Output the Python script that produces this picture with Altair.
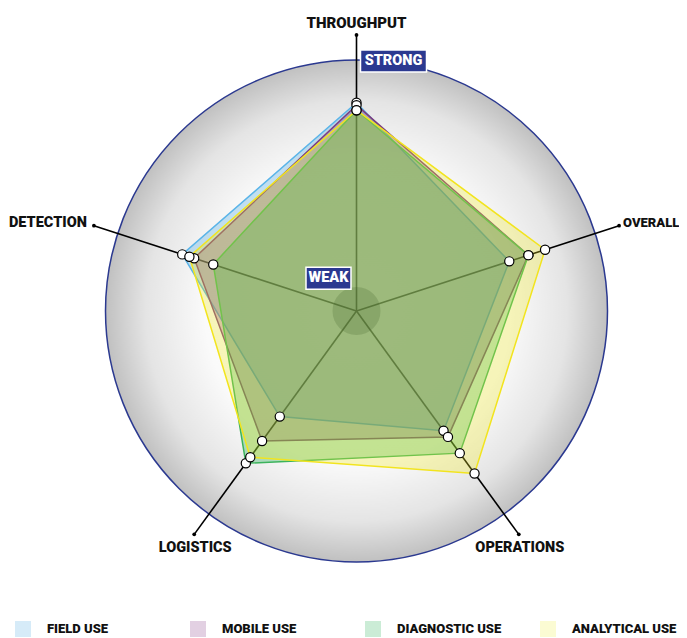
import math
import altair as alt
import pandas as pd

# ---------------- data ----------------
axes_names = ["THROUGHPUT", "OVERALL", "OPERATIONS", "LOGISTICS", "DETECTION"]
series_names = ["FIELD USE", "MOBILE USE", "DIAGNOSTIC USE", "ANALYTICAL USE"]
field_use = [83, 64, 59, 52, 73]
mobile_use = [82, 72, 62, 64, 68]
diagnostic_use = [80, 72, 70, 75, 60]
analytical_use = [80, 79, 80, 72, 70]
values = [field_use, mobile_use, diagnostic_use, analytical_use]
fill_colors = ["#3ea2de", "#742074", "#08a53e", "#eee826"]
swatch_colors = ["#c5e3f5", "#d5bcd5", "#b5e4c5", "#fafac0"]
stroke_colors = ["#5ab4e8", "#7d3d7d", "#3cb35c", "#f2e41e"]
strong_label = "STRONG"
weak_label = "WEAK"

# ---------------- layout ----------------
R_MAX = 100          # outer circle value
R_LEAD = 110         # leader end
PX = 2.51            # pixels per unit
W, H = 671, 630
CX, CY = 348.5, 303  # centre in plot pixels
FONT = "Roboto, Liberation Sans, sans-serif"
WEIGHT = 900
n = len(axes_names)
angles = [math.radians(90 - 360 / n * i) for i in range(n)]

xs = alt.Scale(domain=[-CX / PX, (W - CX) / PX], nice=False, zero=False)
ys = alt.Scale(domain=[-(H - CY) / PX, CY / PX], nice=False, zero=False)
X = lambda f="x": alt.X(f"{f}:Q", scale=xs, axis=None)
Y = lambda f="y": alt.Y(f"{f}:Q", scale=ys, axis=None)

# polygons
rows = []
for s, vals in zip(series_names, values):
    for i, (a, v) in enumerate(zip(angles, vals)):
        rows.append({"series": s, "axis": axes_names[i], "idx": i, "v": v,
                     "x": v * math.cos(a), "y": v * math.sin(a)})
poly = pd.DataFrame(rows)

# spokes
spk = []
for i, a in enumerate(angles):
    spk.append({"axis": axes_names[i], "p": 0, "x": 0.0, "y": 0.0})
    spk.append({"axis": axes_names[i], "p": 1, "x": R_LEAD * math.cos(a), "y": R_LEAD * math.sin(a)})
spokes_df = pd.DataFrame(spk)
ends_df = spokes_df[spokes_df.p == 1].copy()

centre = pd.DataFrame({"x": [0.0], "y": [0.0]})

bg = alt.Chart(centre).mark_arc(
    theta=0, theta2=2 * math.pi, radius=R_MAX * PX,
    fill=alt.Gradient(gradient="radial", x1=0.5, y1=0.5, r1=0, x2=0.5, y2=0.5, r2=0.5,
                      stops=[alt.GradientStop(color="#ffffff", offset=0),
                             alt.GradientStop(color="#fafafa", offset=0.6),
                             alt.GradientStop(color="#e4e4e4", offset=0.84),
                             alt.GradientStop(color="#c0c0c0", offset=1)]),
    stroke="#2b3990", strokeWidth=1.5,
).encode(x=X(), y=Y())

spokes = alt.Chart(spokes_df).mark_line(color="#000000", strokeWidth=1.6).encode(
    x=X(), y=Y(), detail="axis:N", order="p:Q")

fill_scale = alt.Scale(domain=series_names, range=fill_colors)
swatch_scale = alt.Scale(domain=series_names, range=swatch_colors)
stroke_scale = alt.Scale(domain=series_names, range=stroke_colors)
leg = alt.Legend(title=None, orient="none", legendX=6, legendY=612, direction="horizontal",
                 columns=4, gridAlign="all", columnPadding=37, symbolType="square",
                 symbolSize=256, symbolStrokeWidth=1.5, labelFont=FONT, labelFontSize=13,
                 labelFontWeight=WEIGHT, labelColor="#111111", labelOffset=15)

poly_layers = []
for s in series_names:
    poly_layers.append(
        alt.Chart(poly).transform_filter(alt.datum.series == s).mark_line(
            interpolate="linear-closed", strokeWidth=1.5, fillOpacity=0.3
        ).encode(
            x=X(), y=Y(), order="idx:Q",
            fill=alt.Fill("series:N", scale=fill_scale, legend=None),
            stroke=alt.Stroke("series:N", scale=stroke_scale, legend=None),
        )
    )

legend_carrier = alt.Chart(poly).mark_point(shape="square", filled=True, size=0).encode(
    x=X(), y=Y(),
    fill=alt.Fill("series:N", scale=swatch_scale, legend=leg),
    stroke=alt.Stroke("series:N", scale=stroke_scale, legend=leg),
)

blob = alt.Chart(centre).mark_arc(theta=0, theta2=2 * math.pi, radius=24,
                                  fill="#3f5f2a", opacity=0.22).encode(x=X(), y=Y())

end_dots = alt.Chart(ends_df).mark_point(filled=True, color="#000000", size=14, opacity=1).encode(
    x=X(), y=Y())

points = alt.Chart(poly).mark_point(shape="circle", filled=True, fill="#ffffff", stroke="#000000",
                                    strokeWidth=1.2, size=85, opacity=1).encode(x=X(), y=Y())

def axis_label(name, size=14.5, **kw):
    return alt.Chart(ends_df).transform_filter(alt.datum.axis == name).mark_text(
        font=FONT, fontSize=size, fontWeight=WEIGHT, color="#111111", **kw
    ).encode(x=X(), y=Y(), text="axis:N")

lab_top = axis_label("THROUGHPUT", size=15, align="center", baseline="alphabetic", dy=-7)
lab_right = axis_label("OVERALL", size=13, align="left", baseline="middle", dx=4, dy=-3)
lab_left = axis_label("DETECTION", size=14.5, align="right", baseline="middle", dx=-7, dy=-3)
lab_bl = axis_label("LOGISTICS", align="center", baseline="top", dx=1, dy=7)
lab_br = axis_label("OPERATIONS", align="center", baseline="top", dx=1, dy=7)

strong_df = pd.DataFrame({"x": [0.0], "y": [float(R_MAX)], "t": [strong_label]})
weak_df = pd.DataFrame({"x": [0.0], "y": [13.0], "t": [weak_label]})

strong_box = alt.Chart(strong_df).mark_point(
    shape="M-1,-0.333L1,-0.333L1,0.333L-1,0.333Z", size=66 * 66, filled=True,
    fill="#2b3990", stroke="#ffffff", strokeWidth=1.5, opacity=1, xOffset=37, yOffset=1
).encode(x=X(), y=Y())
strong_txt = alt.Chart(strong_df).mark_text(
    font=FONT, fontSize=14.5, fontWeight=WEIGHT, color="#ffffff", dx=37, dy=1
).encode(x=X(), y=Y(), text="t:N")
weak_box = alt.Chart(weak_df).mark_point(
    shape="M-1,-0.489L1,-0.489L1,0.489L-1,0.489Z", size=45 * 45, filled=True,
    fill="#2b3990", stroke="#ffffff", strokeWidth=1.5, opacity=1, xOffset=-28
).encode(x=X(), y=Y())
weak_txt = alt.Chart(weak_df).mark_text(
    font=FONT, fontSize=14.5, fontWeight=WEIGHT, color="#ffffff", dx=-28
).encode(x=X(), y=Y(), text="t:N")

chart = alt.layer(
    bg, spokes, *poly_layers, legend_carrier, blob, end_dots, points,
    lab_top, lab_right, lab_left, lab_bl, lab_br,
    strong_box, strong_txt, weak_box, weak_txt
).resolve_scale(fill="independent").properties(
    width=W, height=H, padding=0, autosize="none").configure_view(stroke=None)

chart.save("out.html", embed_options={"renderer": "svg", "actions": False})
